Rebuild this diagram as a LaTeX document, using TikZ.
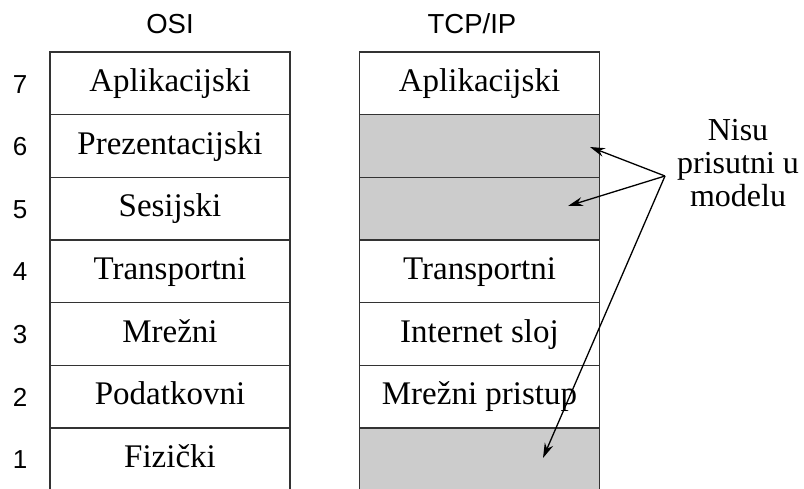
\documentclass[tikz,border=0pt]{standalone}
\usepackage{fontspec}
\setmainfont{Liberation Serif}
\newfontfamily\labelfont{Liberation Sans}
\usepackage{tikz}
\usetikzlibrary{arrows.meta}
\definecolor{grey}{rgb}{0.8,0.8,0.8}
\definecolor{edge}{rgb}{0.2,0.2,0.2}

\begin{document}
\begin{tikzpicture}[x=1pt, y=-1pt,
layer/.style ={shape=rectangle, draw=edge, line width=1.6pt, fill=white,
  minimum width=240pt, minimum height=62.67pt, inner sep=0pt, outer sep=0pt,
  text height=23pt, text depth=7pt, font=\fontsize{33}{38}\selectfont},
empty/.style ={layer, fill=grey},
head/.style ={font=\labelfont\fontsize{27.5}{32}\selectfont},
num/.style ={font=\labelfont\fontsize{26}{30}\selectfont},
pointer/.style ={line width=1.3pt, -{Stealth[length=15pt,width=9pt]}}]
\useasboundingbox (0,0) rectangle (804,488);
\clip (0,0) rectangle (804,488);
%headings
\node[head] (osi) at (170,24) {OSI};
\node[head] (tcpip) at (472,24) {TCP/IP};
%OSI layers
\node[layer] (o7) at (170,83.33) {Aplikacijski};
\node[layer] (o6) at (170,146) {Prezentacijski};
\node[layer] (o5) at (170,208.67) {Sesijski};
\node[layer] (o4) at (170,271.33) {Transportni};
\node[layer] (o3) at (170,334) {Mrežni};
\node[layer] (o2) at (170,396.67) {Podatkovni};
\node[layer] (o1) at (170,459.33) {Fizički};
%layer numbers
\node[num] (n7) at (20,84.5) {7};
\node[num] (n6) at (20,147) {6};
\node[num] (n5) at (20,209.5) {5};
\node[num] (n4) at (20,272) {4};
\node[num] (n3) at (20,335) {3};
\node[num] (n2) at (20,397.5) {2};
\node[num] (n1) at (20,460) {1};
%TCP/IP layers
\node[layer] (t7) at (479.5,83.33) {Aplikacijski};
\node[empty] (t6) at (479.5,146) {};
\node[empty] (t5) at (479.5,208.67) {};
\node[layer] (t4) at (479.5,271.33) {Transportni};
\node[layer] (t3) at (479.5,334) {Internet sloj};
\node[layer] (t2) at (479.5,396.67) {Mrežni pristup};
\node[empty] (t1) at (479.5,459.33) {};
%note
\node[align=center, font=\fontsize{32}{33}\selectfont] (note) at (738,163) {Nisu\\prisutni u\\modelu};
\coordinate (src) at (665,176);
\coordinate (p6) at (590,147);
\coordinate (p5) at (568,206);
\coordinate (p1) at (543,458);
\draw[pointer] (src) -- (p6);
\draw[pointer] (src) -- (p5);
\draw[pointer] (src) -- (p1);
\end{tikzpicture}
\end{document}
